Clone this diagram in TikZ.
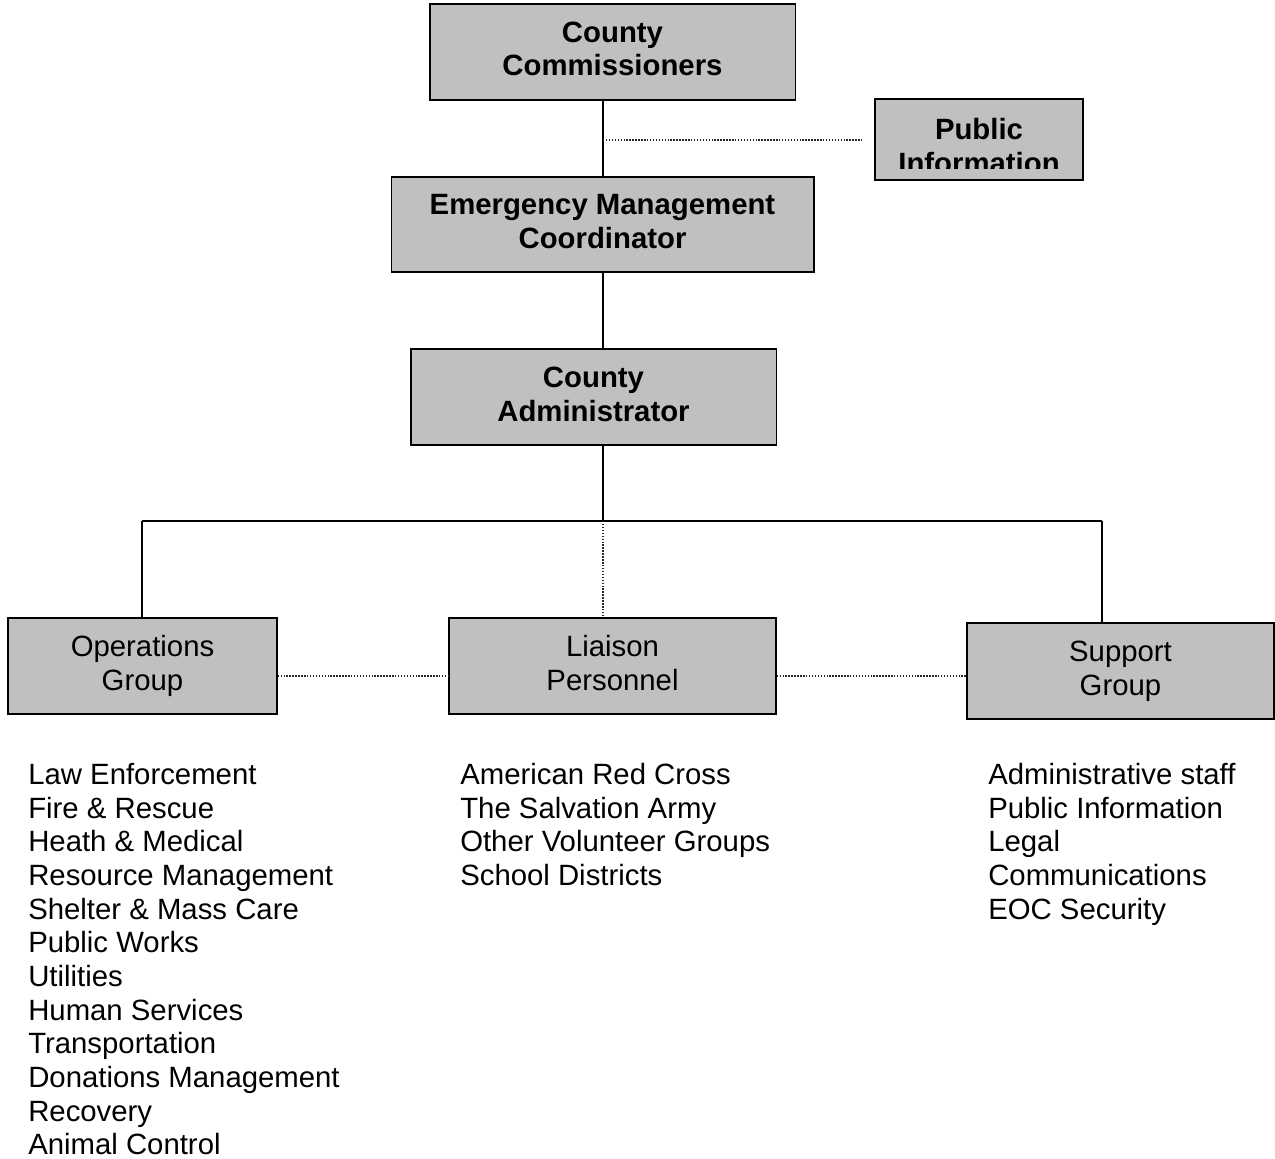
\documentclass[tikz,border=0pt]{standalone}
\usepackage{fontspec}
\setmainfont{Liberation Sans}
\begin{document}
\begin{tikzpicture}[x=0.75pt,y=-0.75pt,
  box/.style={draw=black,line width=1pt,fill=boxgray,inner sep=0pt,align=center,font=\fontsize{22}{25.3}\selectfont},
  bbox/.style={box,font=\fontsize{22}{25.3}\selectfont\bfseries},
  solidline/.style={line width=1.1pt,black},
  dotline/.style={line width=0.8pt,black!85,dash pattern=on 1.1pt off 1.1pt},
  item/.style={anchor=base west,inner sep=0pt,font=\fontsize{22}{25.3}\selectfont}]
\definecolor{boxgray}{HTML}{C0C0C0}
\useasboundingbox (0,0) rectangle (1275,1159);
% boxes
\node[bbox,minimum width=274pt,minimum height=72pt] (cc) at (612.5,52) {County\\Commissioners\vphantom{g}};
\node[box,minimum width=156pt,minimum height=60.75pt] (pi) at (979,139.5) {};
\begin{scope}
\clip (870,95) rectangle (1090,169);
\node[inner sep=0pt,align=center,font=\fontsize{22}{25.3}\selectfont\bfseries] (pitext) at (979,146) {Public\\Information};
\end{scope}
\node[bbox,minimum width=317pt,minimum height=71.25pt] (emc) at (602.5,224.5) {Emergency Management\\Coordinator\vphantom{g}};
\node[bbox,minimum width=274pt,minimum height=72pt] (ca) at (593.5,397) {County\\Administrator\vphantom{g}};
\node[box,minimum width=201.75pt,minimum height=72pt] (og) at (142.5,666) {Operations\\Group};
\node[box,minimum width=245.25pt,minimum height=72pt] (lp) at (612.5,666) {Liaison\\Personnel\vphantom{g}};
\node[box,minimum width=230.25pt,minimum height=72pt] (sg) at (1120.5,671) {Support\\Group};
% connectors
\coordinate (piend) at (862,140);
\coordinate (bus) at (603,521);
\coordinate (busl) at (142,521);
\coordinate (busr) at (1102,521);
\draw[solidline] (603,0 |- cc.south) -- (603,0 |- emc.north);
\draw[dotline] (603,140) -- (piend);
\draw[solidline] (603,0 |- emc.south) -- (603,0 |- ca.north);
\draw[solidline] (603,0 |- ca.south) -- (bus);
\draw[solidline] (busl) -- (busr);
\draw[solidline] (busl) -- (busl |- og.north);
\draw[solidline] (busr) -- (busr |- sg.north);
\draw[dotline] (bus) -- (bus |- lp.north);
\draw[dotline] (og.east |- 0,676) -- (lp.west |- 0,676);
\draw[dotline] (lp.east |- 0,676) -- (sg.west |- 0,676);
% lists
\foreach \t [count=\i from 0] in {Law Enforcement,Fire \& Rescue,Heath \& Medical,Resource Management,Shelter \& Mass Care,Public Works,Utilities,Human Services,Transportation,Donations Management,Recovery,Animal Control}
  \node[item] (op\i) at (28,{784.5+33.65*\i}) {\t};
\foreach \t [count=\i from 0] in {American Red Cross,The Salvation Army,Other Volunteer Groups,School Districts}
  \node[item] (li\i) at (460,{784.5+33.65*\i}) {\t};
\foreach \t [count=\i from 0] in {Administrative staff,Public Information,Legal,Communications,EOC Security}
  \node[item] (su\i) at (988,{784.5+33.65*\i}) {\t};
\end{tikzpicture}
\end{document}
